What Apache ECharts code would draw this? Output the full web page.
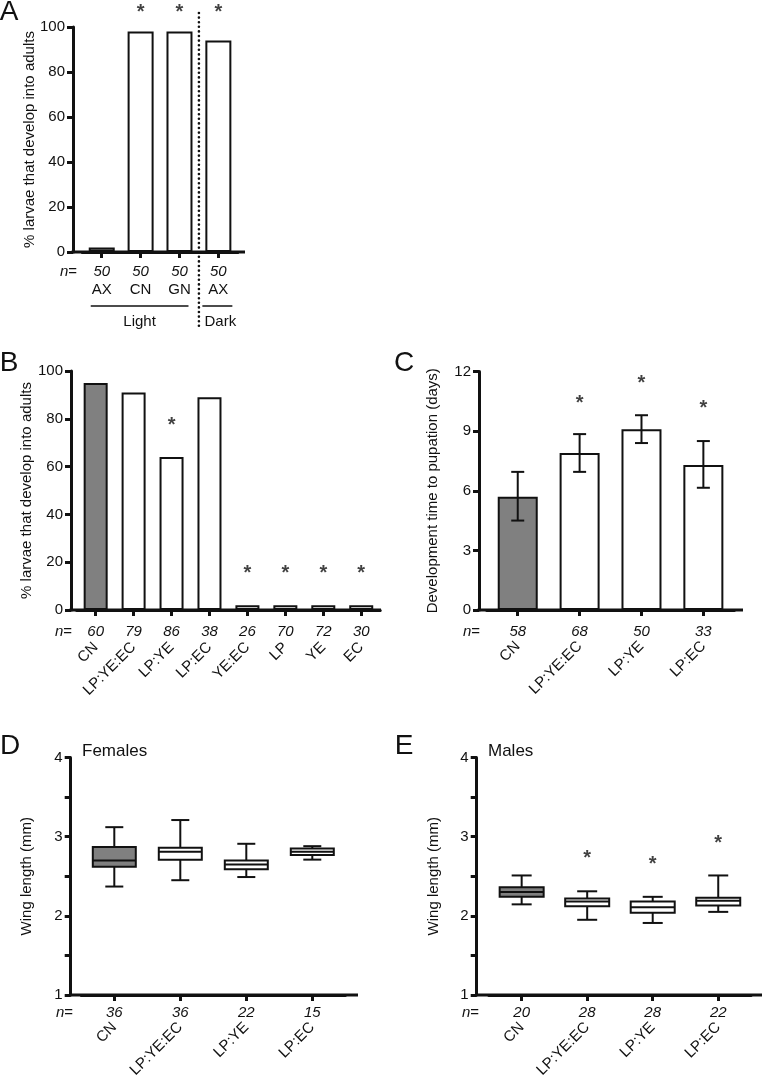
<!DOCTYPE html>
<html><head><meta charset="utf-8">
<script src="https://cdn.jsdelivr.net/npm/echarts@6/dist/echarts.min.js"></script>
<style>html,body{margin:0;padding:0;background:#fff}#c{width:762px;height:1085px}</style>
</head><body><div id="c"></div>
<script>
// ---------- DATA ----------
// Panel A
const aCats = ['AX', 'CN', 'GN', 'AX'];
const aN = ['50', '50', '50', '50'];
const aValues = [2, 98, 98, 94];
const aStars = ['-', 108.5, 108.5, 108.5];
// Panel B
const bCats = ['CN', 'LP:YE:EC', 'LP:YE', 'LP:EC', 'YE:EC', 'LP', 'YE', 'EC'];
const bN = ['60', '79', '86', '38', '26', '70', '72', '30'];
const bValues = [95, 91, 64, 89, 2, 2, 2, 2];
const bStars = ['-', '-', 79, '-', 17, 17, 17, 17];
// Panel C
const cCats = ['CN', 'LP:YE:EC', 'LP:YE', 'LP:EC'];
const cN = ['58', '68', '50', '33'];
const cMeans = [5.7, 7.9, 9.1, 7.3];
const cErrLow = [4.5, 6.95, 8.4, 6.15];
const cErrHigh = [6.95, 8.85, 9.8, 8.5];
const cStars = ['-', 10.6, 11.6, 10.35];
// Panel D (Females)
const dCats = ['CN', 'LP:YE:EC', 'LP:YE', 'LP:EC'];
const dN = ['36', '36', '22', '15'];
const dMin = [2.37, 2.45, 2.49, 2.71];
const dQ1 = [2.62, 2.71, 2.59, 2.77];
const dMed = [2.70, 2.81, 2.65, 2.81];
const dQ3 = [2.87, 2.86, 2.70, 2.85];
const dMax = [3.12, 3.21, 2.91, 2.88];
// Panel E (Males)
const eCats = ['CN', 'LP:YE:EC', 'LP:YE', 'LP:EC'];
const eN = ['20', '28', '28', '22'];
const eMin = [2.145, 1.95, 1.91, 2.05];
const eQ1 = [2.24, 2.12, 2.04, 2.13];
const eMed = [2.30, 2.18, 2.11, 2.19];
const eQ3 = [2.36, 2.22, 2.18, 2.23];
const eMax = [2.51, 2.31, 2.24, 2.51];
const eStars = ['-', 2.78, 2.70, 2.97];

// ---------- STYLE / LAYOUT ----------
const FONT = '"Liberation Sans", Arial, Helvetica, sans-serif';
const INK = '#111';
const GRAY = '#808080';

const L = [
  {axisX: 73, axisEnd: 245, top: 27, bottom: 252, left: 82.3, right: 237.8},
  {axisX: 71, axisEnd: 381, top: 371, bottom: 610, left: 76.7, right: 380.2},
  {axisX: 479, axisEnd: 743, top: 371.5, bottom: 610, left: 486.8, right: 734.3},
  {axisX: 70.7, axisEnd: 358, top: 757.5, bottom: 995, left: 81.3, right: 345.3},
  {axisX: 476.7, axisEnd: 762, top: 757.5, bottom: 995, left: 488.9, right: 751}
];
const P = [
  {cats: aCats, n: aN, yMin: 0, yMax: 100, yInt: 20, name: '% larvae that develop into adults', nameGap: 35.5, nMargin: 12, catMargin: 30, rotate: 0},
  {cats: bCats, n: bN, yMin: 0, yMax: 100, yInt: 20, name: '% larvae that develop into adults', nameGap: 37, nMargin: 14, catMargin: 35, rotate: 45},
  {cats: cCats, n: cN, yMin: 0, yMax: 12, yInt: 3, name: 'Development time to pupation (days)', nameGap: 38.5, nMargin: 14, catMargin: 34, rotate: 45},
  {cats: dCats, n: dN, yMin: 1, yMax: 4, yInt: 0.5, name: 'Wing length (mm)', nameGap: 36.5, nMargin: 10, catMargin: 30, rotate: 45, intOnly: true},
  {cats: eCats, n: eN, yMin: 1, yMax: 4, yInt: 0.5, name: 'Wing length (mm)', nameGap: 35.5, nMargin: 10, catMargin: 30, rotate: 45, intOnly: true}
];

const grids = [], xAxes = [], yAxes = [];
P.forEach((p, i) => {
  const g = L[i];
  grids.push({left: g.left, top: g.top, width: g.right - g.left, height: g.bottom - g.top,
    containLabel: false, outerBoundsMode: 'none'});
  xAxes.push({type: 'category', gridIndex: i, position: 'bottom', data: p.n, boundaryGap: true,
    axisLine: {show: true, onZero: false, lineStyle: {color: INK, width: 3}},
    axisTick: {show: true, alignWithLabel: true, length: 6, lineStyle: {color: INK, width: 3}},
    axisLabel: {interval: 0, margin: p.nMargin, fontStyle: 'italic', fontSize: 15, color: INK, fontFamily: FONT},
    splitLine: {show: false}});
  xAxes.push({type: 'category', gridIndex: i, position: 'bottom', data: p.cats, boundaryGap: true,
    axisLine: {show: false}, axisTick: {show: false},
    axisLabel: {interval: 0, margin: p.catMargin, rotate: p.rotate, fontSize: 15, color: INK, fontFamily: FONT},
    splitLine: {show: false}});
  const yLab = {margin: 8, fontSize: 15, color: INK, fontFamily: FONT};
  if (p.intOnly) yLab.formatter = v => (Math.abs(v - Math.round(v)) < 1e-9 ? String(Math.round(v)) : '');
  yAxes.push({type: 'value', gridIndex: i, min: p.yMin, max: p.yMax, interval: p.yInt,
    offset: g.left - g.axisX, name: p.name, nameLocation: 'middle', nameGap: p.nameGap, nameRotate: 90,
    nameMoveOverlap: false,
    nameTextStyle: {fontSize: 15, color: INK, fontFamily: FONT},
    axisLine: {show: true, lineStyle: {color: INK, width: 3}},
    axisTick: {show: true, length: 6, lineStyle: {color: INK, width: 3}},
    axisLabel: yLab, splitLine: {show: false}});
});

const barColor = p => (p.dataIndex === 0 ? GRAY : '#ffffff');
function starSeries(xi, yi, data) {
  return {type: 'scatter', xAxisIndex: xi, yAxisIndex: yi, data: data, clip: false,
    symbolSize: 1, itemStyle: {color: 'rgba(0,0,0,0)'}, silent: true, z: 6,
    label: {show: true, position: 'inside', formatter: '*', fontSize: 20, fontWeight: 'bold', color: INK, fontFamily: FONT, offset: [0, 4.5]}};
}
function boxSeries(xi, yi, mn, q1, md, q3, mx, bw, cw) {
  return {type: 'custom', xAxisIndex: xi, yAxisIndex: yi,
    encode: {x: 0, y: [1, 2, 3, 4, 5]},
    data: mn.map((v, i) => [i, mn[i], q1[i], md[i], q3[i], mx[i]]),
    renderItem: (params, api) => {
      const x = api.value(0);
      const pMin = api.coord([x, api.value(1)]), pQ1 = api.coord([x, api.value(2)]),
        pMed = api.coord([x, api.value(3)]), pQ3 = api.coord([x, api.value(4)]), pMax = api.coord([x, api.value(5)]);
      const cx = pMin[0];
      const fill = params.dataIndex === 0 ? GRAY : '#ffffff';
      const st = {stroke: INK, lineWidth: 2, fill: null};
      return {type: 'group', children: [
        {type: 'line', shape: {x1: cx, y1: pMax[1], x2: cx, y2: pQ3[1]}, style: st},
        {type: 'line', shape: {x1: cx, y1: pQ1[1], x2: cx, y2: pMin[1]}, style: st},
        {type: 'line', shape: {x1: cx - cw / 2, y1: pMax[1], x2: cx + cw / 2, y2: pMax[1]}, style: st},
        {type: 'line', shape: {x1: cx - cw / 2, y1: pMin[1], x2: cx + cw / 2, y2: pMin[1]}, style: st},
        {type: 'rect', shape: {x: cx - bw / 2, y: pQ3[1], width: bw, height: pQ1[1] - pQ3[1]}, style: {fill: fill, stroke: INK, lineWidth: 2}},
        {type: 'line', shape: {x1: cx - bw / 2, y1: pMed[1], x2: cx + bw / 2, y2: pMed[1]}, style: st}
      ]};
    }};
}

const series = [
  {type: 'bar', xAxisIndex: 0, yAxisIndex: 0, data: aValues, barWidth: 26,
    itemStyle: {color: barColor, borderColor: INK, borderWidth: 2}},
  starSeries(0, 0, aStars),
  {type: 'bar', xAxisIndex: 2, yAxisIndex: 1, data: bValues, barWidth: 24,
    itemStyle: {color: barColor, borderColor: INK, borderWidth: 2}},
  starSeries(2, 1, bStars),
  {type: 'bar', xAxisIndex: 4, yAxisIndex: 2, data: cMeans, barWidth: 40,
    itemStyle: {color: barColor, borderColor: INK, borderWidth: 2}},
  {type: 'custom', xAxisIndex: 4, yAxisIndex: 2, encode: {x: 0, y: [1, 2]}, z: 5,
    data: cMeans.map((m, i) => [i, cErrLow[i], cErrHigh[i]]),
    renderItem: (params, api) => {
      const lo = api.coord([api.value(0), api.value(1)]);
      const hi = api.coord([api.value(0), api.value(2)]);
      const w = 6.5, st = {stroke: INK, lineWidth: 2, fill: null};
      return {type: 'group', children: [
        {type: 'line', shape: {x1: lo[0], y1: lo[1], x2: hi[0], y2: hi[1]}, style: st},
        {type: 'line', shape: {x1: lo[0] - w, y1: lo[1], x2: lo[0] + w, y2: lo[1]}, style: st},
        {type: 'line', shape: {x1: hi[0] - w, y1: hi[1], x2: hi[0] + w, y2: hi[1]}, style: st}
      ]};
    }},
  starSeries(4, 2, cStars),
  boxSeries(6, 3, dMin, dQ1, dMed, dQ3, dMax, 43, 18),
  boxSeries(8, 4, eMin, eQ1, eMed, eQ3, eMax, 44, 20),
  starSeries(8, 4, eStars)
];

const chart = echarts.init(document.getElementById('c'), null, {renderer: 'canvas'});
chart.setOption({animation: false, backgroundColor: '#fff', textStyle: {fontFamily: FONT},
  grid: grids, xAxis: xAxes, yAxis: yAxes, series: series});

// ---------- annotations (layout) ----------
function txt(text, x, y, size, align, extra) {
  const st = Object.assign({text: text, fontSize: size, fontFamily: FONT, fill: INK,
    align: align, verticalAlign: 'middle', textAlign: align, textVerticalAlign: 'middle'}, extra || {});
  return {type: 'text', x: x, y: y, style: st, z: 10};
}
function line(x1, y1, x2, y2, w, extra) {
  return {type: 'line', shape: {x1: x1, y1: y1, x2: x2, y2: y2},
    style: Object.assign({stroke: INK, lineWidth: w}, extra || {}), z: 10};
}
const px = (ax, i) => chart.convertToPixel({xAxisIndex: ax}, i);
const G = [];
// panel letters
G.push(txt('A', 9, 12, 28, 'center'), txt('B', 9, 363, 28, 'center'), txt('C', 404, 363, 28, 'center'),
  txt('D', 10, 746, 28, 'center'), txt('E', 404, 746, 28, 'center'));
// baselines
L.forEach(g => G.push(line(g.axisX - 1.5, g.bottom, g.axisEnd, g.bottom, 3)));
// n= labels
const nEq = (x, y) => ({type: 'text', x: x, y: y, z: 10, style: {text: '{i|n}=', fontSize: 15, fontFamily: FONT, fill: INK,
  align: 'right', verticalAlign: 'middle', textAlign: 'right', textVerticalAlign: 'middle',
  rich: {i: {fontStyle: 'italic', fontSize: 15, fontFamily: FONT, fill: INK}}}});
G.push(nEq(77, 272), nEq(72, 632), nEq(480, 632), nEq(73, 1013), nEq(479, 1013));
// sub titles
G.push(txt('Females', 82, 751, 17, 'left'), txt('Males', 488, 751, 17, 'left'));
// panel A: light/dark grouping
const a0 = px(0, 0), a2 = px(0, 2), a3 = px(0, 3);
G.push(line(a0 - 11, 306, a2 + 9, 306, 1.5));
G.push(line(a3 - 16, 306, a3 + 14, 306, 1.5));
G.push(txt('Light', (a0 - 11 + a2 + 9) / 2, 322, 15, 'center'));
G.push(txt('Dark', a3 + 2, 322, 15, 'center'));
const mid = (a2 + a3) / 2;
G.push(line(mid, 13, mid, 327, 2.6, {lineDash: [0, 4.6], lineCap: 'round'}));
chart.setOption({graphic: G});
</script>
</body></html>
